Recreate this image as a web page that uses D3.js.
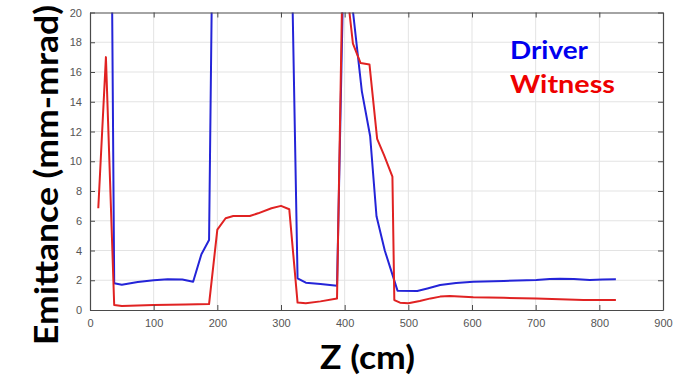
<!DOCTYPE html>
<html>
<head>
<meta charset="utf-8">
<script src="https://cdn.jsdelivr.net/npm/d3@7"></script>
<style>
  html, body { margin: 0; padding: 0; background: #fff; }
  svg { display: block; }
</style>
</head>
<body>
<svg id="chart" width="679" height="376"></svg>
<script>
// Emittance along the beamline, driver and witness bunches
const driverZ = [30, 38, 50, 75, 100, 122, 145, 162, 175, 187, 195, 250, 312, 326, 339, 362, 388, 400, 408, 427, 440, 450, 463, 483, 514, 530, 550, 575, 602, 650, 701, 722, 738, 760, 785, 805, 826];
const driverE = [48, 1.8, 1.7, 1.88, 2.0, 2.07, 2.05, 1.9, 3.75, 4.7, 35, 40, 35, 2.13, 1.84, 1.75, 1.63, 27, 22, 14.7, 11.7, 6.3, 4.0, 1.3, 1.28, 1.45, 1.68, 1.82, 1.9, 1.95, 2.02, 2.08, 2.1, 2.08, 2.02, 2.05, 2.06];

const witnessZ = [13, 25, 38, 50, 100, 150, 187, 200, 213, 225, 251, 264, 285, 300, 313, 326, 339, 362, 388, 398, 401, 413, 425, 439, 451, 462, 475, 478, 487, 500, 518, 535, 550, 565, 602, 650, 701, 775, 826];
const witnessE = [6.84, 17.0, 0.34, 0.27, 0.33, 0.37, 0.4, 5.4, 6.17, 6.32, 6.32, 6.5, 6.84, 7.0, 6.77, 0.5, 0.45, 0.58, 0.78, 26, 22.5, 17.9, 16.6, 16.5, 11.5, 10.4, 8.97, 0.67, 0.49, 0.45, 0.6, 0.78, 0.9, 0.94, 0.85, 0.82, 0.78, 0.67, 0.67];

const xTicks = [0, 100, 200, 300, 400, 500, 600, 700, 800, 900];
const yTicks = [0, 2, 4, 6, 8, 10, 12, 14, 16, 18, 20];

const seriesNames = ["Driver", "Witness"];
const xTitle = "Z (cm)";
const yTitle = "Emittance (mm-mrad)";

const svg = d3.select("#chart");
const plot = { left: 90, right: 663, top: 12.5, bottom: 310 };

const x = d3.scaleLinear().domain([0, 900]).range([plot.left, plot.right]);
const y = d3.scaleLinear().domain([0, 20]).range([plot.bottom, plot.top]);

const axisColor = "#4a4a4a";
const gridColor = "#e3e3e3";

// grid
const grid = svg.append("g");
grid.selectAll("line.vx").data(xTicks.slice(1, -1)).join("line")
  .attr("x1", d => x(d)).attr("x2", d => x(d))
  .attr("y1", plot.top).attr("y2", plot.bottom)
  .attr("stroke", gridColor).attr("stroke-width", 1);
grid.selectAll("line.hy").data(yTicks.slice(1, -1)).join("line")
  .attr("x1", plot.left).attr("x2", plot.right)
  .attr("y1", d => y(d)).attr("y2", d => y(d))
  .attr("stroke", gridColor).attr("stroke-width", 1);

// clip region for the curves
svg.append("defs").append("clipPath").attr("id", "plotClip")
  .append("rect")
  .attr("x", plot.left).attr("y", plot.top)
  .attr("width", plot.right - plot.left).attr("height", plot.bottom - plot.top);

const line = d3.line().x(d => x(d[0])).y(d => y(d[1]));
const curves = svg.append("g").attr("clip-path", "url(#plotClip)");

curves.append("path")
  .datum(d3.zip(driverZ, driverE))
  .attr("d", line)
  .attr("fill", "none")
  .attr("stroke", "#2424d8")
  .attr("stroke-width", 2)
  .attr("stroke-linejoin", "round");

curves.append("path")
  .datum(d3.zip(witnessZ, witnessE))
  .attr("d", line)
  .attr("fill", "none")
  .attr("stroke", "#e02222")
  .attr("stroke-width", 2)
  .attr("stroke-linejoin", "round");

// axes with inward ticks on all four sides
function styleAxis(g) {
  g.selectAll(".domain").attr("stroke", axisColor).attr("stroke-width", 1.2);
  g.selectAll(".tick line").attr("stroke", axisColor).attr("stroke-width", 1);
  g.selectAll(".tick text")
    .attr("fill", "#555")
    .style("font-family", "'Liberation Sans', Arial, sans-serif")
    .style("font-size", "11px");
}

svg.append("g")
  .attr("transform", `translate(0,${plot.bottom})`)
  .call(d3.axisBottom(x).tickValues(xTicks).tickSize(-5).tickSizeOuter(0).tickPadding(9))
  .call(styleAxis);

svg.append("g")
  .attr("transform", `translate(${plot.left},0)`)
  .call(d3.axisLeft(y).tickValues(yTicks).tickSize(-5).tickSizeOuter(0).tickPadding(8))
  .call(styleAxis);

svg.append("g")
  .attr("transform", `translate(0,${plot.top})`)
  .call(d3.axisTop(x).tickValues(xTicks).tickSize(-5).tickSizeOuter(0).tickFormat(""))
  .call(styleAxis);

svg.append("g")
  .attr("transform", `translate(${plot.right},0)`)
  .call(d3.axisRight(y).tickValues(yTicks).tickSize(-5).tickSizeOuter(0).tickFormat(""))
  .call(styleAxis);

// axis titles
const titleFont = "Lato, 'Open Sans', sans-serif";

svg.append("text")
  .attr("x", 320).attr("y", 369)
  .attr("textLength", 95).attr("lengthAdjust", "spacingAndGlyphs")
  .style("font-family", titleFont).style("font-weight", 700).style("font-size", "32px")
  .attr("fill", "#000")
  .text(xTitle);

svg.append("text")
  .attr("transform", "translate(58,345) rotate(-90)")
  .attr("x", 0).attr("y", 0)
  .attr("textLength", 340).attr("lengthAdjust", "spacingAndGlyphs")
  .style("font-family", titleFont).style("font-weight", 700).style("font-size", "33px")
  .attr("fill", "#000")
  .text(yTitle);

// legend labels
const legendColors = ["#0000ee", "#ee0000"];
const legendWidths = [78, 105];
svg.selectAll("text.legend").data(seriesNames).join("text")
  .attr("class", "legend")
  .attr("x", 510)
  .attr("y", (d, i) => 59 + i * 34)
  .attr("textLength", (d, i) => legendWidths[i]).attr("lengthAdjust", "spacingAndGlyphs")
  .style("font-family", titleFont).style("font-weight", 700).style("font-size", "25px")
  .attr("fill", (d, i) => legendColors[i])
  .text(d => d);
</script>
</body>
</html>
